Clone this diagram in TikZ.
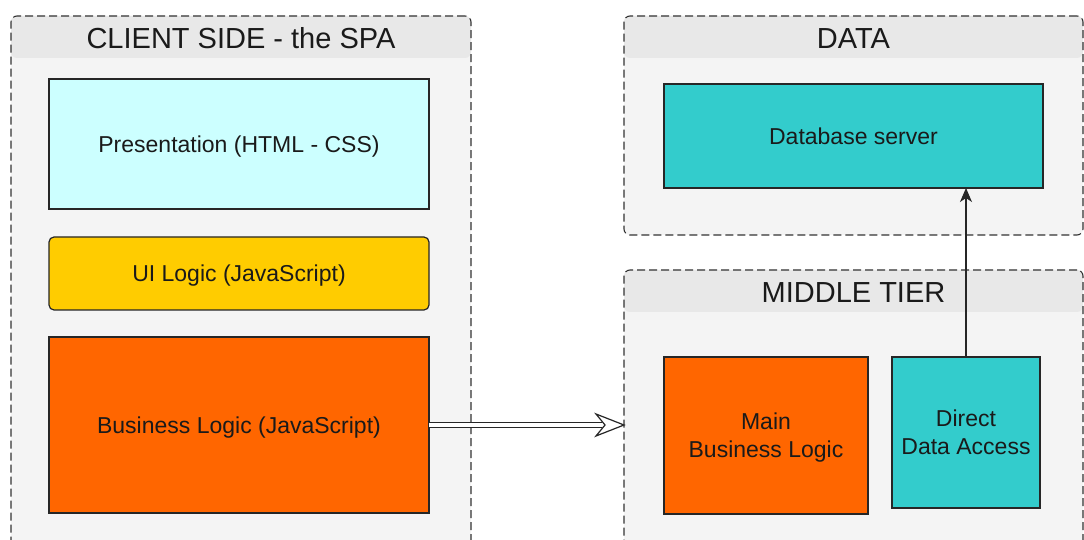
\documentclass[tikz,border=0pt]{standalone}
\usepackage{fontspec}
\setmainfont{Liberation Sans}
\usetikzlibrary{arrows.meta,calc}
\definecolor{bodygray}{HTML}{F4F4F4}
\definecolor{hdrgray}{HTML}{E8E8E8}
\definecolor{dashgray}{HTML}{333333}
\definecolor{lcyan}{HTML}{CCFFFF}
\definecolor{uiyellow}{HTML}{FFCC00}
\definecolor{orng}{HTML}{FF6600}
\definecolor{teal}{HTML}{33CCCC}
\definecolor{txt}{HTML}{1A1A1A}
\tikzset{
  container/.style={draw=dashgray, line width=0.55pt, dash pattern=on 4pt off 2pt,
    rounded corners=3pt, fill=bodygray, inner sep=0pt, outer sep=0pt,
    path picture={\fill[hdrgray] (path picture bounding box.north west) rectangle ([yshift=-21pt]path picture bounding box.north east);}},
  ctitle/.style={font=\fontsize{14.5}{17}\selectfont, text=txt, inner sep=0pt},
  block/.style={draw=black!85, line width=0.6pt, inner sep=0pt, outer sep=0pt,
    font=\fontsize{11.5}{14}\selectfont, text=txt, align=center, text depth=0pt},
}
\begin{document}
\begin{tikzpicture}[x=0.5pt,y=-0.5pt]
\clip (0,0) rectangle (1084,540);
\fill[white] (0,0) rectangle (1084,540);
% containers
\node[container, minimum width=230pt, minimum height=265pt] (client) at (241,281) {};
\node[container, minimum width=229.5pt, minimum height=109.5pt] (data) at (853.5,125.5) {};
\node[container, minimum width=229.5pt, minimum height=139pt] (mt) at (853.5,409) {};
% titles
\node[ctitle] (clientT) at (241,38) {CLIENT SIDE - the SPA};
\node[ctitle] (dataT) at (853.5,39) {DATA};
\node[ctitle] (mtT) at (853.5,293) {MIDDLE TIER};
% blocks
\node[block, fill=lcyan, minimum width=190pt, minimum height=65pt] (pres) at (239,144) {Presentation (HTML - CSS)};
\node[block, fill=uiyellow, rounded corners=2.5pt, minimum width=190pt, minimum height=36.5pt] (ui) at (239,273.5) {UI Logic (JavaScript)};
\node[block, fill=orng, minimum width=190pt, minimum height=88pt] (bl) at (239,425) {Business Logic (JavaScript)};
\node[block, fill=teal, minimum width=189.5pt, minimum height=52pt] (db) at (853.5,136) {Database server};
\node[block, fill=orng, minimum width=102pt, minimum height=78.5pt] (mbl) at (766,435.5) {Main\\Business Logic};
\node[block, fill=teal, minimum width=74pt, minimum height=75.5pt] (dda) at (966,432.5) {Direct\\Data Access};
% connectors
\draw[black!85, line width=0.6pt, -{Stealth[length=7pt,width=6pt,inset=2pt]}] (dda.north) -- (dda.north |- db.south);
\coordinate (tip) at (mt.west |- bl.east);
\draw[black!85, line width=0.5pt, double=white, double distance=2pt] (bl.east) -- ($(tip)+(-22,0)$);
\draw[black!85, line width=0.6pt, fill=white, line join=miter] (tip) -- ++(-28,-11) -- ++(9,11) -- ++(-9,11) -- cycle;
\end{tikzpicture}
\end{document}
